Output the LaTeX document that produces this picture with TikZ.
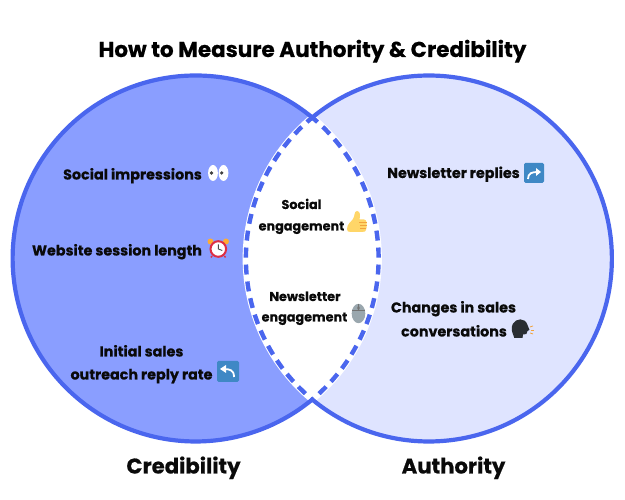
\documentclass[tikz,border=0pt]{standalone}
\usepackage{fontspec}
\setmainfont{Poppins}[BoldFont={Poppins Bold},BoldFeatures={FakeBold=0.5}]
\definecolor{ringblue}{HTML}{4A66EE}
\definecolor{credfill}{HTML}{8A9EFF}
\definecolor{authfill}{HTML}{DFE4FF}
\definecolor{inkblack}{HTML}{0A0A0A}
\definecolor{tilebl}{HTML}{3F88C5}
\definecolor{thumbyel}{HTML}{FFD668}
\definecolor{thumbor}{HTML}{F2A33C}
\definecolor{mousegr}{HTML}{9AA7AE}
\definecolor{headdk}{HTML}{2A2E33}
\definecolor{clockred}{HTML}{DD2E44}
\definecolor{bellyel}{HTML}{FFAC33}
\tikzset{
  x=1pt,y=1pt,
  ring/.style={draw=ringblue,line width=4.2pt},
  dashring/.style={draw=ringblue,line width=4.4pt,dash pattern=on 10pt off 7pt,dash phase=3pt},
  gapring/.style={draw=white,line width=6.5pt},
  label/.style={font=\bfseries\fontsize{14.3}{16}\selectfont,text=inkblack,anchor=base,inner sep=0pt},
  midlabel/.style={font=\bfseries\fontsize{12.8}{15}\selectfont,text=inkblack,anchor=base,inner sep=0pt},
  titlelab/.style={font=\bfseries\fontsize{21.5}{24}\selectfont,text=black,anchor=base,inner sep=0pt},
  setlab/.style={font=\bfseries\fontsize{21.2}{24}\selectfont,text=inkblack,anchor=base,inner sep=0pt},
  tile/.style={fill=tilebl,rounded corners=1.5pt},
  arrowstroke/.style={draw=white,line width=1.8pt},
}
\begin{document}
\begin{tikzpicture}
\useasboundingbox (0,0) rectangle (625,500);
\fill[white] (0,0) rectangle (625,500);
% filled sets
\fill[credfill] (195.5,241.5) circle[radius=183];
\fill[authfill] (429,241.5) circle[radius=183];
% white overlap
\begin{scope}
  \clip (195.5,241.5) circle[radius=183];
  \fill[white] (429,241.5) circle[radius=183];
\end{scope}
% dashed arcs of overlap
\draw[gapring] (312.25,382.5) arc[start angle=50.4,end angle=-50.4,radius=183];
\draw[gapring] (312.25,382.5) arc[start angle=129.6,end angle=230.4,radius=183];
\draw[dashring] (312.25,382.5) arc[start angle=50.4,end angle=-50.4,radius=183];
\draw[dashring] (312.25,382.5) arc[start angle=129.6,end angle=230.4,radius=183];
% outer arcs
\draw[ring] (312.25,382.5) arc[start angle=50.4,end angle=309.6,radius=183];
\draw[ring] (312.25,100.5) arc[start angle=230.4,end angle=489.6,radius=183];
% texts
\node[titlelab] (title) at (312.5,443) {How to Measure Authority \& Credibility};
\node[setlab] (cred) at (183.5,26.5) {Credibility};
\node[setlab] (auth) at (453.5,26.5) {Authority};
\node[label] (t1) at (132.5,320.5) {Social impressions};
\node[label] (t2) at (117,244.5) {Website session length};
\node[label] (t3) at (141.5,143.5) {Initial sales};
\node[label] (t4) at (141.5,120.5) {outreach reply rate};
\node[midlabel] (t5) at (301.5,291) {Social};
\node[midlabel] (t6) at (301.5,269.5) {engagement};
\node[midlabel] (t7) at (305,199) {Newsletter};
\node[midlabel] (t8) at (304.5,178.5) {engagement};
\node[label] (t9) at (453.5,322) {Newsletter replies};
\node[label] (t10) at (453.5,187.5) {Changes in sales};
\node[label] (t11) at (454,163.5) {conversations};
% eyes
\fill[white] (213,327) ellipse[x radius=4.9,y radius=8];
\fill[white] (223.5,327) ellipse[x radius=4.9,y radius=8];
\fill[black!75] (211.5,327) circle[radius=1.8];
\fill[black!75] (221.7,327) circle[radius=1.8];
% alarm clock
\fill[bellyel] (210.5,258.5) circle[radius=3];
\fill[bellyel] (226,258.5) circle[radius=3];
\filldraw[fill=white,draw=clockred,line width=2pt] (218.3,251) circle[radius=7.8];
\draw[black!70,line width=.9pt] (218.3,255.5) -- (218.3,251) -- (222.3,249.5);
\draw[clockred,line width=1.4pt] (212,244) -- (211,242.5);
\draw[clockred,line width=1.4pt] (224.5,244) -- (225.5,242.5);
% thumbs up
\fill[thumbyel] (347,271) .. controls (347,276) and (351,278) .. (353,281) .. controls (355,284) and (354,289) .. (357,289) .. controls (361,289) and (360,283) .. (359.5,280.5) -- (364,280.5) .. controls (367,280.5) and (367,276) .. (366.5,272) .. controls (366,268) and (364,268) .. (362,268) -- (351,268) .. controls (348,268) and (347,268.5) .. (347,271) -- cycle;
\fill[thumbor] (359,277.8) rectangle (366.5,276.8);
\fill[thumbor] (359.5,274.8) rectangle (366.8,273.8);
\fill[thumbor] (359.5,271.8) rectangle (366.3,270.8);
% mouse
\fill[mousegr] (358.5,186.5) ellipse[x radius=6.8,y radius=9.7];
\draw[black!55,line width=.7pt] (352,190) -- (365,190);
\draw[black!55,line width=.7pt] (358.5,190) -- (358.5,196);
\fill[black!55] (358.5,192) ellipse[x radius=1.2,y radius=2];
% arrow tiles
\fill[tile] (217,118) rectangle (239,139);
\draw[arrowstroke] (234,123) .. controls (234,130) and (230,131) .. (223,131);
\fill[white] (226,135) -- (220,131) -- (226,127) -- cycle;
\fill[tile] (524,317) rectangle (544,337);
\draw[arrowstroke] (528,321) .. controls (528,327) and (532,328) .. (538,328);
\fill[white] (536,332) -- (541,328) -- (536,324) -- cycle;
% speaking head
\fill[headdk] (514,163) .. controls (512,168) and (510.5,172) .. (513,176.5) .. controls (516,181.5) and (525,183) .. (527.5,175) .. controls (528,173) and (528.5,172) .. (529.5,170) -- (527.5,169) .. controls (527.5,166) and (526,165) .. (523,165.5) -- (522.5,162) -- (514,162) -- cycle;
\draw[thumbor,line width=.8pt] (530,173) -- (533,174);
\draw[thumbor,line width=.8pt] (530.5,170) -- (533.5,170);
\draw[thumbor,line width=.8pt] (530,167) -- (533,166);
\end{tikzpicture}
\end{document}
